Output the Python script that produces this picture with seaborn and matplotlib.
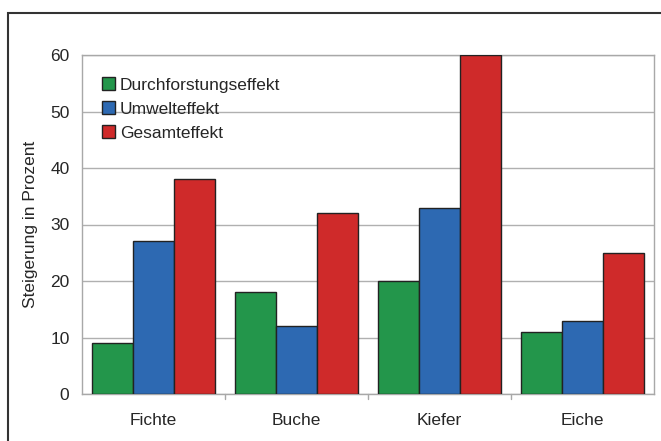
import pandas as pd
import matplotlib.pyplot as plt
import matplotlib.patches as mpatches
import seaborn as sns

# Chart values
arten = ["Fichte", "Buche", "Kiefer", "Eiche"]
durchforstung = [9, 18, 20, 11]
umwelt = [27, 12, 33, 13]
gesamt = [38, 32, 60, 25]
effekte = ["Durchforstungseffekt", "Umwelteffekt", "Gesamteffekt"]
farben = ["#23964B", "#2D69B2", "#CF2A2A"]

df = pd.DataFrame({
    "Art": arten * 3,
    "Effekt": [effekte[0]] * 4 + [effekte[1]] * 4 + [effekte[2]] * 4,
    "Wert": durchforstung + umwelt + gesamt,
})

sns.set_style("white")
plt.rcParams["font.family"] = ["Liberation Sans", "DejaVu Sans"]

fig = plt.figure(figsize=(6.61, 4.41), dpi=100)
ax = fig.add_axes([82 / 661, 1 - 394 / 441, (654 - 82) / 661, (394 - 55) / 441])

sns.barplot(data=df, x="Art", y="Wert", hue="Effekt", palette=farben,
            width=0.86, edgecolor="#222222", linewidth=1.0, saturation=1,
            ax=ax, zorder=3)

ax.set_ylim(0, 60)
ax.set_yticks(range(0, 61, 10))
ax.set_xlim(-0.5, 3.5)
ax.yaxis.grid(True, color="#B0B0B0", linewidth=1, zorder=0)
ax.set_axisbelow(True)
for s in ax.spines.values():
    s.set_color("#A8A8A8")
    s.set_linewidth(1)

ax.tick_params(axis="y", length=5, color="#A8A8A8", labelsize=12.5, pad=4)
ax.set_xticks([0, 1, 2, 3])
ax.set_xticklabels(arten, fontsize=12.5)
ax.tick_params(axis="x", length=0, pad=14)
# separator ticks between categories
for b in [0.5, 1.5, 2.5]:
    ax.plot([b, b], [0, -0.8], color="#A8A8A8", lw=1, clip_on=False)

ax.set_xlabel("")
ax.set_ylabel("Steigerung in Prozent", fontsize=12.5, labelpad=9)

handles = [mpatches.Patch(facecolor=c, edgecolor="#222222", label=l)
           for c, l in zip(farben, effekte)]
ax.legend(handles=handles, loc="upper left", bbox_to_anchor=(0.022, 0.955),
          frameon=False, fontsize=12.5, handlelength=0.75, handleheight=0.75,
          handletextpad=0.3, labelspacing=0.5, borderaxespad=0)

# outer frame
fig.add_artist(mpatches.Rectangle((8 / 661, -0.1), 1.2, 1 - 13 / 441 + 0.1,
                                  transform=fig.transFigure, fill=False,
                                  edgecolor="#333333", linewidth=1.5))

fig.savefig("out.png", dpi=100)
